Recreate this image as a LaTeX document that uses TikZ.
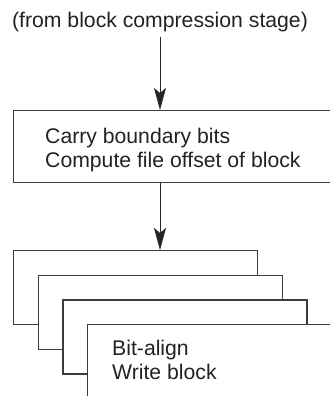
\documentclass[tikz,border=0pt]{standalone}
\usepackage{fontspec}
\setmainfont{Liberation Sans}
\usetikzlibrary{arrows.meta}
\definecolor{figline}{HTML}{3C3C3C}
\definecolor{figtext}{HTML}{222222}

\begin{document}
\begin{tikzpicture}[x=1pt, y=-1pt,
    lbl/.style={text=figtext, font=\fontsize{21.2}{24.5}\selectfont, inner sep=0pt, align=left},
    page/.style={draw=figline, fill=white, line width=1.2pt, minimum width=244pt, minimum height=74pt, inner sep=0pt, anchor=north west},
    arr/.style={draw=black!85, line width=1pt, -{Stealth[length=22pt, width=12pt, inset=5pt]}}]
  \useasboundingbox (0,0) rectangle (330,396);
  \clip (0,0) rectangle (330,396);
  \node[lbl, anchor=base] (src) at (160,28) {(from block compression stage)};
  \node[page, minimum width=340pt, minimum height=72pt] (carry) at (13,110) {};
  \node[lbl, anchor=north west] (carrytxt) at (45,127.7) {Carry boundary bits\\Compute file offset of block};
  % stacked block pages
  \foreach \i in {0,...,3}
    \node[page] (pg\i) at (13+24.67*\i, 250+24.67*\i) {};
  \node[lbl, anchor=north west] (writetxt) at (112,339.7) {Bit-align\\Write block};
  \draw[arr, shorten <=4pt] (src.south) -- (src.south |- carry.north);
  \draw[arr] (src.south |- carry.south) -- (src.south |- pg0.north);
\end{tikzpicture}
\end{document}
